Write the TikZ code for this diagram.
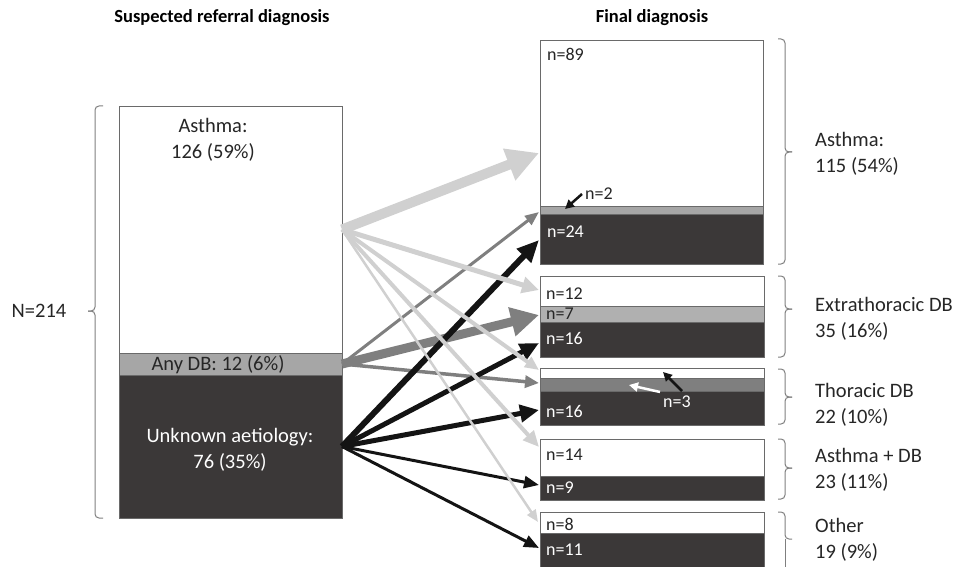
\documentclass[tikz,border=0pt]{standalone}
\usepackage{fontspec}
\setmainfont{Carlito}
\usetikzlibrary{arrows.meta}
\definecolor{lightA}{HTML}{D0D0D0}
\definecolor{midA}{HTML}{7F7F7F}
\definecolor{darkA}{HTML}{141414}
\definecolor{boxdark}{HTML}{3B3838}
\definecolor{bandL}{HTML}{A6A6A6}
\definecolor{bandA}{HTML}{A6A6A6}
\definecolor{bandB}{HTML}{B0B0B0}
\definecolor{bandC}{HTML}{7F7F7F}
\definecolor{bordc}{HTML}{6A6A6A}
\definecolor{bracec}{HTML}{7F7F7F}
\definecolor{txt}{HTML}{262626}
\begin{document}
\begin{tikzpicture}[x=1pt,y=-1pt,
  band/.style={inner sep=0pt, outer sep=0pt, anchor=north west, draw=bordc, line width=0.6pt},
  big/.style={font=\fontsize{20.5}{25.5}\selectfont, text=txt, inner sep=0pt},
  nlab/.style={font=\fontsize{18}{20}\selectfont, text=txt, inner sep=0pt, anchor=west},
  wlab/.style={nlab, text=white},
  hdr/.style={font=\bfseries\fontsize{18.5}{22}\selectfont, text=black, inner sep=0pt},
  bracepath/.style={draw=bracec, line width=1pt, rounded corners=4pt},
  arrL/.style={draw=lightA, line width=#1},
  arrM/.style={draw=midA, line width=#1},
  arrD/.style={draw=darkA, line width=#1}
]
\useasboundingbox (0,0) rectangle (956,567);

% headers
\node[hdr] (hL) at (222,18) {Suspected referral diagnosis};
\node[hdr] (hR) at (652,18) {Final diagnosis};

% left stacked box
\node[band, fill=white,   minimum width=223pt, minimum height=247pt] (lw) at (119,106) {};
\node[band, fill=bandL,   minimum width=223pt, minimum height=22pt]  (lg) at (119,353) {};
\node[band, fill=boxdark, minimum width=223pt, minimum height=143pt] (ld) at (119,375) {};
\node[big, align=center] (lwt) at (213,140) {Asthma:\\126 (59\%)};
\node[big] (lgt) at (218,365) {Any DB: 12 (6\%)};
\node[big, align=center, text=white] (ldt) at (230,450) {Unknown aetiology:\\76 (35\%)};

% left brace
\draw[bracepath] (103,106) -- (95,106) -- (95,311) -- (88,311);
\draw[bracepath] (103,518) -- (95,518) -- (95,311) -- (88,311);
\node[big] (N) at (39,311) {N=214};

% right box 1
\node[band, fill=white,   minimum width=223pt, minimum height=166pt] (r1w) at (540,40) {};
\node[band, fill=bandA,   minimum width=223pt, minimum height=8pt]   (r1g) at (540,206) {};
\node[band, fill=boxdark, minimum width=223pt, minimum height=50pt]  (r1d) at (540,214) {};
% right box 2
\node[band, fill=white,   minimum width=224pt, minimum height=30pt] (r2w) at (540,276) {};
\node[band, fill=bandB,   minimum width=224pt, minimum height=16pt] (r2g) at (540,306) {};
\node[band, fill=boxdark, minimum width=224pt, minimum height=35pt] (r2d) at (540,322) {};
% right box 3
\node[band, fill=white,   minimum width=224pt, minimum height=10pt] (r3w) at (540,368) {};
\node[band, fill=bandC,   minimum width=224pt, minimum height=13pt] (r3g) at (540,378) {};
\node[band, fill=boxdark, minimum width=224pt, minimum height=34pt] (r3d) at (540,391) {};
% right box 4
\node[band, fill=white,   minimum width=224pt, minimum height=37pt] (r4w) at (540,439) {};
\node[band, fill=boxdark, minimum width=224pt, minimum height=24pt] (r4d) at (540,476) {};
% right box 5
\node[band, fill=white,   minimum width=224pt, minimum height=21pt] (r5w) at (540,512) {};
\node[band, fill=boxdark, minimum width=224pt, minimum height=40pt] (r5d) at (540,533) {};

% counts in boxes
\node[nlab] (c89) at (547,54) {n=89};
\node[wlab] (c24) at (547,232) {n=24};
\node[nlab] (c12) at (546,294) {n=12};
\node[nlab, text=txt] (c7) at (546,314) {n=7};
\node[wlab] (c16a) at (546,338) {n=16};
\node[wlab] (c16b) at (546,411) {n=16};
\node[nlab] (c14) at (546,455) {n=14};
\node[wlab] (c9) at (546,488) {n=9};
\node[nlab] (c8) at (546,524) {n=8};
\node[wlab] (c11) at (546,550) {n=11};
\node[nlab] (c2) at (585,194) {n=2};
\node[wlab] (c3) at (663,402) {n=3};

% right braces
\draw[bracepath] (778,39) -- (785,39) -- (785,152) -- (792,152);
\draw[bracepath] (778,264) -- (785,264) -- (785,152) -- (792,152);
\draw[bracepath] (778,276) -- (785,276) -- (785,309) -- (792,309);
\draw[bracepath] (778,357) -- (785,357) -- (785,309) -- (792,309);
\draw[bracepath] (778,369) -- (785,369) -- (785,397) -- (792,397);
\draw[bracepath] (778,424) -- (785,424) -- (785,397) -- (792,397);
\draw[bracepath] (778,439) -- (785,439) -- (785,468) -- (792,468);
\draw[bracepath] (778,499) -- (785,499) -- (785,468) -- (792,468);
\draw[bracepath] (778,512) -- (785,512) -- (785,539) -- (792,539);
\draw[bracepath] (785,539) -- (785,575);

% right labels
\node[big, anchor=west, align=left] (g1) at (815,154) {Asthma:\\115 (54\%)};
\node[big, anchor=west, align=left] (g2) at (815,319) {Extrathoracic DB\\35 (16\%)};
\node[big, anchor=west, align=left] (g3) at (815,405) {Thoracic DB\\22 (10\%)};
\node[big, anchor=west, align=left] (g4) at (815,470) {Asthma + DB\\23 (11\%)};
\node[big, anchor=west, align=left] (g5) at (815,540) {Other\\19 (9\%)};

% arrow targets
\coordinate (tL1) at (539,153);
\coordinate (tL2) at (539,290);
\coordinate (tL3) at (539,370);
\coordinate (tL4) at (539,447);
\coordinate (tL5) at (538,522);
\coordinate (tM1) at (539,212);
\coordinate (tM2) at (539,315);
\coordinate (tM3) at (539,383);
\coordinate (tD1) at (539,240);
\coordinate (tD2) at (539,343);
\coordinate (tD3) at (539,410);
\coordinate (tD4) at (539,485);
\coordinate (tD5) at (539,548);

% Any DB arrows (mid grey)
\draw[arrM=3pt, -{Triangle[length=14pt,width=11pt]}] (lg.east) -- (tM1);
\draw[arrM=9pt, -{Triangle[length=28pt,width=28pt]}] (lg.east) -- (tM2);
\draw[arrM=3.5pt, -{Triangle[length=14pt,width=12pt]}] (lg.east) -- (tM3);

% Unknown aetiology arrows (black)
\draw[arrD=6pt, -{Triangle[length=22pt,width=19pt]}] (ld.east) -- (tD1);
\draw[arrD=5pt, -{Triangle[length=19pt,width=17pt]}] (ld.east) -- (tD2);
\draw[arrD=5pt, -{Triangle[length=19pt,width=17pt]}] (ld.east) -- (tD3);
\draw[arrD=3pt, -{Triangle[length=15pt,width=12pt]}] (ld.east) -- (tD4);
\draw[arrD=3pt, -{Triangle[length=15pt,width=12pt]}] (ld.east) -- (tD5);

% Asthma arrows (light grey)
\draw[arrL=10pt, -{Triangle[length=32pt,width=32pt]}] (lw.east) -- (tL1);
\draw[arrL=5pt, -{Triangle[length=17pt,width=16pt]}] (lw.east) -- (tL2);
\draw[arrL=4pt, -{Triangle[length=14pt,width=12pt]}] (lw.east) -- (tL3);
\draw[arrL=4pt, -{Triangle[length=16pt,width=14pt]}] (lw.east) -- (tL4);
\draw[arrL=2.5pt, -{Triangle[length=12pt,width=10pt]}] (lw.east) -- (tL5);

% small pointer arrows
\coordinate (p2s) at (582,194);
\coordinate (p2e) at (565,209);
\draw[arrD=2.5pt, -{Triangle[length=9pt,width=9pt]}] (p2s) -- (p2e);
\coordinate (p3s) at (682,391);
\coordinate (p3e) at (663,372);
\draw[arrD=2.5pt, -{Triangle[length=9pt,width=9pt]}] (p3s) -- (p3e);
\coordinate (p3ws) at (660,392);
\coordinate (p3we) at (629,385);
\draw[draw=white, line width=2.5pt, -{Triangle[length=9pt,width=9pt]}] (p3ws) -- (p3we);
\end{tikzpicture}
\end{document}
